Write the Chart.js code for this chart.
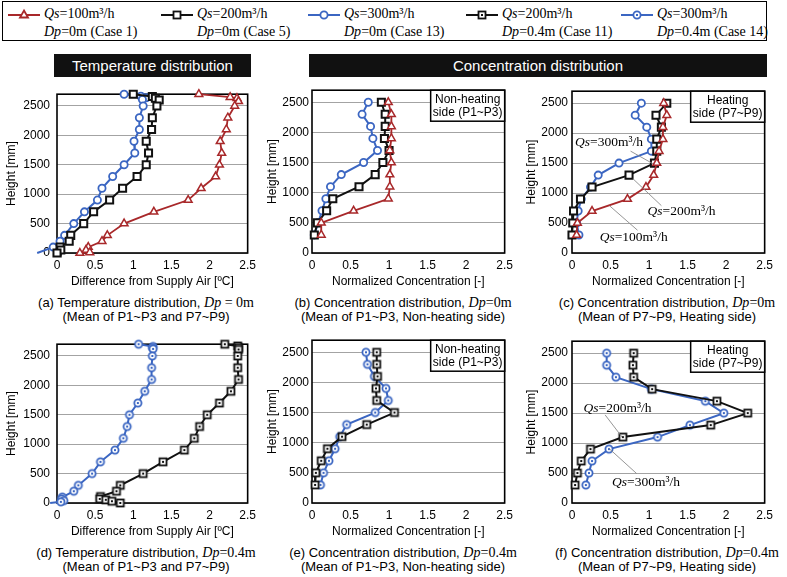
<!DOCTYPE html>
<html>
<head>
<meta charset="utf-8">
<script src="https://cdn.jsdelivr.net/npm/chart.js@4.4.0/dist/chart.umd.min.js"></script>
<style>
body { margin: 0; background: #fff; width: 787px; height: 577px; position: relative; overflow: hidden; font-family: "Liberation Sans", Arial, sans-serif; }
canvas.panel { position: absolute; }
.bar { position: absolute; top: 54px; height: 23px; background: #111; color: #fff; font-size: 15px; line-height: 23px; text-align: center; }
.cap { position: absolute; width: 280px; font-size: 13px; line-height: 14px; text-align: center; color: #000; white-space: nowrap; }
.cap .s { font-family: "Liberation Serif", serif; font-size: 14px; }
#legend { position: absolute; left: 2px; top: 1px; width: 763px; height: 38px; border: 1.5px solid #000; }
.lg { position: absolute; font-family: "Liberation Serif", serif; font-size: 14px; line-height: 16px; white-space: nowrap; }
.lgc { position: absolute; }
</style>
</head>
<body>
<div id="legend"></div>
<div class="bar" style="left:54px;width:197px;">Temperature distribution</div>
<div class="bar" style="left:309px;width:458px;">Concentration distribution</div>

<canvas class="panel" id="pa"></canvas>
<canvas class="panel" id="pb"></canvas>
<canvas class="panel" id="pc"></canvas>
<canvas class="panel" id="pd"></canvas>
<canvas class="panel" id="pe"></canvas>
<canvas class="panel" id="pf"></canvas>

<div class="cap" style="left:6px;top:296px;">(a) Temperature distribution, <i class="s">Dp</i><span class="s"> = 0m</span><br>(Mean of P1~P3 and P7~P9)</div>
<div class="cap" style="left:263px;top:296px;">(b) Concentration distribution, <i class="s">Dp</i><span class="s">=0m</span><br>(Mean of P1~P3, Non-heating side)</div>
<div class="cap" style="left:527px;top:296px;">(c) Concentration distribution, <i class="s">Dp</i><span class="s">=0m</span><br>(Mean of P7~P9, Heating side)</div>
<div class="cap" style="left:6px;top:546px;">(d) Temperature distribution, <i class="s">Dp</i><span class="s">=0.4m</span><br>(Mean of P1~P3 and P7~P9)</div>
<div class="cap" style="left:263px;top:546px;">(e) Concentration distribution, <i class="s">Dp</i><span class="s">=0.4m</span><br>(Mean of P1~P3, Non-heating side)</div>
<div class="cap" style="left:527px;top:546px;">(f) Concentration distribution, <i class="s">Dp</i><span class="s">=0.4m</span><br>(Mean of P7~P9, Heating side)</div>

<script>
// axis ticks
const yTicks = [0, 500, 1000, 1500, 2000, 2500];
const xTicks = [0, 0.5, 1, 1.5, 2, 2.5];

// legend entries
const caseNames = ["Case 1", "Case 5", "Case 13", "Case 11", "Case 14"];
const caseQs = ["100", "200", "300", "200", "300"];
const caseDp = ["0", "0", "0", "0.4", "0.4"];

// (a) temperature, Dp=0m
const hA1 = [2700, 2650, 2630, 2580, 2500, 2300, 2100, 1900, 1700, 1500, 1300, 1100, 900, 700, 500, 300, 200, 100, 50, 10, 0];
const tA1 = [1.86, 2.27, 2.36, 2.38, 2.33, 2.24, 2.22, 2.14, 2.16, 2.13, 2.08, 1.89, 1.72, 1.27, 0.88, 0.66, 0.59, 0.41, 0.38, 0.43, 0.30];
const hA5 = [2700, 2660, 2630, 2600, 2500, 2300, 2100, 1900, 1700, 1500, 1300, 1100, 900, 700, 500, 300, 200, 100, 50, 0];
const tA5 = [1.0, 1.25, 1.29, 1.34, 1.31, 1.25, 1.24, 1.17, 1.20, 1.17, 1.05, 0.86, 0.69, 0.48, 0.35, 0.18, 0.16, 0.04, 0.05, 0.0];
const hA13 = [2700, 2665, 2640, 2610, 2500, 2300, 2100, 1900, 1700, 1500, 1300, 1100, 900, 700, 500, 300, 200, 100, 0];
const tA13 = [0.88, 1.10, 1.17, 1.12, 1.13, 1.08, 1.08, 1.01, 1.02, 0.88, 0.73, 0.59, 0.53, 0.36, 0.22, 0.10, 0.04, -0.05, -0.26];

// (d) temperature, Dp=0.4m
const hD11 = [2700, 2670, 2640, 2610, 2500, 2300, 2100, 1900, 1700, 1500, 1300, 1100, 900, 700, 500, 300, 200, 110, 70, 55, 30, 0];
const tD11 = [2.20, 2.37, 2.38, 2.38, 2.37, 2.37, 2.38, 2.28, 2.13, 1.97, 1.87, 1.80, 1.67, 1.39, 1.13, 0.83, 0.78, 0.57, 0.56, 0.64, 0.72, 0.83];
const hD14 = [2700, 2660, 2640, 2620, 2500, 2300, 2100, 1900, 1700, 1500, 1300, 1100, 900, 700, 500, 300, 200, 100, 70, 40, 20, 0];
const tD14 = [1.07, 1.26, 1.25, 1.26, 1.25, 1.24, 1.24, 1.15, 1.06, 0.95, 0.92, 0.87, 0.76, 0.57, 0.46, 0.28, 0.22, 0.07, 0.06, 0.09, 0.05, -0.09];

// concentration panels share the measuring heights
const hConc = [2500, 2300, 2100, 1900, 1700, 1500, 1300, 1100, 900, 700, 500, 300];
const cB1 = [0.99, 1.03, 1.03, 1.03, 1.01, 1.03, 1.01, 1.01, 0.99, 0.54, 0.12, 0.12];
const cB5 = [0.90, 0.95, 0.95, 0.94, 1.00, 0.92, 0.82, 0.61, 0.27, 0.19, 0.07, 0.03];
const cB13 = [0.73, 0.65, 0.76, 0.79, 0.85, 0.67, 0.38, 0.24, 0.18, 0.13, 0.08, 0.03];
const cC1 = [1.19, 1.23, 1.18, 1.18, 1.13, 1.10, 1.06, 0.96, 0.72, 0.26, 0.07, 0.06];
const cC5 = [1.23, 1.09, 1.16, 1.10, 1.10, 1.07, 0.74, 0.26, 0.11, 0.02, 0.01, 0.0];
const cC13 = [0.90, 0.82, 0.97, 1.03, 1.03, 0.61, 0.34, 0.24, 0.12, 0.08, 0.06, 0.09];
const cE11 = [0.84, 0.84, 0.85, 0.83, 0.84, 1.07, 0.71, 0.39, 0.20, 0.12, 0.05, 0.04];
const cE14 = [0.70, 0.72, 0.81, 0.96, 0.99, 0.82, 0.45, 0.36, 0.30, 0.22, 0.15, 0.11];
const cF11 = [0.80, 0.79, 0.80, 1.04, 1.88, 2.28, 1.80, 0.66, 0.24, 0.12, 0.07, 0.04];
const cF14 = [0.45, 0.45, 0.57, 1.03, 1.73, 1.97, 1.53, 1.11, 0.48, 0.26, 0.22, 0.18];

const RED = "#a8282a";
const BLUE = "#3b66c2";
const BLACK = "#111111";
const SANS = '"Liberation Sans", Arial, sans-serif';
const SERIF = '"Liberation Serif", "Times New Roman", serif';

// square / circle with a dot in the middle (Dp=0.4m cases)
function dotMarker(shape, color) {
    const c = document.createElement("canvas");
    c.width = 12; c.height = 12;
    const g = c.getContext("2d");
    g.lineWidth = 1.8; g.strokeStyle = color; g.fillStyle = "#fff";
    if (shape === "rect") {
        g.fillRect(2.5, 2.5, 7, 7); g.strokeRect(2.5, 2.5, 7, 7);
    } else {
        g.beginPath(); g.arc(6, 6, 3.6, 0, Math.PI * 2); g.fill(); g.stroke();
    }
    g.fillStyle = color; g.fillRect(5, 5, 2, 2);
    return c;
}
const sqDot = dotMarker("rect", BLACK);
const ciDot = dotMarker("circle", BLUE);

const styles = {
    c1: { borderColor: RED, pointBorderColor: RED, pointStyle: "triangle", pointRadius: 4.5, pointBorderWidth: 1.5, borderWidth: 1.8 },
    c5: { borderColor: BLACK, pointBorderColor: BLACK, pointStyle: "rect", pointRadius: 5, pointBorderWidth: 2, borderWidth: 2 },
    c13: { borderColor: BLUE, pointBorderColor: BLUE, pointStyle: "circle", pointRadius: 3.6, pointBorderWidth: 1.8, borderWidth: 2 },
    c11: { borderColor: BLACK, pointBorderColor: BLACK, pointStyle: sqDot, pointRadius: 5, borderWidth: 2 },
    c14: { borderColor: BLUE, pointBorderColor: BLUE, pointStyle: ciDot, pointRadius: 4, borderWidth: 2 }
};

function series(xs, hs, key, extra) {
    return Object.assign({
        data: xs.map((v, i) => ({ x: v, y: hs[i] })),
        showLine: true,
        tension: 0,
        clip: false,
        pointBackgroundColor: "#fff",
        pointHoverRadius: 5
    }, styles[key], extra || {});
}

// frame, side box and leader-line notes
const panelDeco = {
    id: "panelDeco",
    beforeDatasetsDraw(chart) {
        const { ctx, chartArea: a } = chart;
        ctx.save();
        ctx.strokeStyle = "#000";
        ctx.lineWidth = 1.6;
        ctx.strokeRect(a.left, a.top, a.right - a.left, a.bottom - a.top);
        ctx.restore();
    },
    afterDatasetsDraw(chart) {
        const { ctx, chartArea: a } = chart;
        const o = chart.options.plugins.panelDeco || {};
        const sx = chart.scales.x, sy = chart.scales.y;
        ctx.save();
        if (o.box) {
            const w = 74, h = 31, x = a.right - w, y = a.top;
            ctx.fillStyle = "#fff";
            ctx.fillRect(x, y, w, h);
            ctx.strokeStyle = "#000";
            ctx.lineWidth = 1.5;
            ctx.strokeRect(x, y, w, h);
            ctx.fillStyle = "#000";
            ctx.font = "12px " + SANS;
            ctx.textAlign = "center";
            ctx.textBaseline = "middle";
            ctx.fillText(o.box[0], x + w / 2, y + 9.5);
            ctx.fillText(o.box[1], x + w / 2, y + 22);
        }
        (o.notes || []).forEach((n) => {
            ctx.strokeStyle = "#8a8a8a";
            ctx.lineWidth = 0.9;
            ctx.beginPath();
            ctx.moveTo(sx.getPixelForValue(n.from[0]), sy.getPixelForValue(n.from[1]));
            ctx.lineTo(sx.getPixelForValue(n.to[0]), sy.getPixelForValue(n.to[1]));
            ctx.stroke();
            let tx = sx.getPixelForValue(n.at[0]);
            const ty = sy.getPixelForValue(n.at[1]);
            ctx.fillStyle = "#000";
            ctx.textBaseline = "middle";
            ctx.textAlign = "left";
            ctx.font = "italic 13.5px " + SERIF;
            ctx.fillText("Qs", tx, ty);
            tx += ctx.measureText("Qs").width;
            ctx.font = "13.5px " + SERIF;
            ctx.fillText("=" + n.qs + "m\u00B3/h", tx, ty);
        });
        ctx.restore();
    }
};

function makePanel(id, p) {
    const cv = document.getElementById(id);
    const padR = 12, padT = 8, xh = 36, ph = 165;
    cv.width = p.yw + p.pw + padR;
    cv.height = padT + ph + xh;
    cv.style.left = p.left + "px";
    cv.style.top = p.top + "px";
    return new Chart(cv.getContext("2d"), {
        type: "scatter",
        data: { datasets: p.datasets },
        plugins: [panelDeco],
        options: {
            responsive: false,
            animation: false,
            devicePixelRatio: 1,
            layout: { padding: { top: padT, right: padR, bottom: 0, left: 0 } },
            plugins: {
                legend: { display: false },
                tooltip: { enabled: false },
                panelDeco: { box: p.box, notes: p.notes }
            },
            scales: {
                x: {
                    type: "linear", min: 0, max: 2.5,
                    afterBuildTicks: (s) => { s.ticks = xTicks.map((v) => ({ value: v })); },
                    afterFit: (s) => { s.height = xh; },
                    grid: { display: false, drawTicks: false },
                    border: { display: false },
                    ticks: { padding: 5, color: "#000", font: { family: SANS, size: 12 }, maxRotation: 0, autoSkip: false,
                        callback: (v) => String(v) },
                    title: { display: true, text: p.xTitle, color: "#000", font: { family: SANS, size: 12 }, padding: { top: 0, bottom: 0 } }
                },
                y: {
                    type: "linear", min: 0, max: 2700,
                    afterBuildTicks: (s) => { s.ticks = yTicks.map((v) => ({ value: v })); },
                    afterFit: (s) => { s.width = p.yw; },
                    grid: { color: "#a3a3a3", lineWidth: 1, drawTicks: false },
                    border: { display: false },
                    ticks: { padding: p.tp, color: "#000", font: { family: SANS, size: 12 }, autoSkip: false,
                        callback: (v) => String(v) },
                    title: { display: true, text: "Height [mm]", color: "#000", font: { family: SANS, size: 12 }, padding: { top: 0, bottom: 0 } }
                }
            }
        }
    });
}

const tTitle = "Difference from Supply Air [\u00BAC]";
const cTitle = "Normalized Concentration [-]";
const col1 = { left: 4, yw: 53, pw: 192, tp: 7 };
const col2 = { left: 265, yw: 47, pw: 194, tp: 3 };
const col3 = { left: 524, yw: 48, pw: 194, tp: 4 };

makePanel("pa", Object.assign({}, col1, { top: 80, xTitle: tTitle, datasets: [
    series(tA1, hA1, "c1"),
    series(tA5, hA5, "c5"),
    series(tA13, hA13, "c13", { pointRadius: hA13.map((h, i) => (i === hA13.length - 1 ? 0 : 3.6)) })
] }));
makePanel("pb", Object.assign({}, col2, { top: 80, xTitle: cTitle, box: ["Non-heating", "side (P1~P3)"], datasets: [
    series(cB1, hConc, "c1"), series(cB5, hConc, "c5"), series(cB13, hConc, "c13")
] }));
makePanel("pc", Object.assign({}, col3, { top: 80, xTitle: cTitle, box: ["Heating", "side (P7~P9)"], datasets: [
    series(cC1, hConc, "c1"), series(cC5, hConc, "c5"), series(cC13, hConc, "c13")
], notes: [
    { qs: "300", at: [0.04, 1850], from: [0.76, 1700], to: [1.05, 1490] },
    { qs: "200", at: [0.98, 700], from: [0.79, 1240], to: [1.16, 790] },
    { qs: "100", at: [0.36, 260], from: [0.49, 785], to: [0.85, 380] }
] }));
makePanel("pd", Object.assign({}, col1, { top: 330, xTitle: tTitle, datasets: [
    series(tD11, hD11, "c11"),
    series(tD14, hD14, "c14", { pointRadius: hD14.map((h, i) => (i === hD14.length - 1 ? 0 : 4)) })
] }));
makePanel("pe", Object.assign({}, col2, { top: 330, xTitle: cTitle, box: ["Non-heating", "side (P1~P3)"], datasets: [
    series(cE11, hConc, "c11"), series(cE14, hConc, "c14")
] }));
makePanel("pf", Object.assign({}, col3, { top: 330, xTitle: cTitle, box: ["Heating", "side (P7~P9)"], datasets: [
    series(cF11, hConc, "c11"), series(cF14, hConc, "c14")
], notes: [
    { qs: "200", at: [0.15, 1570], from: [0.43, 1470], to: [0.65, 1100] },
    { qs: "300", at: [0.52, 345], from: [0.84, 490], to: [0.48, 910] }
] }));

// legend (html text + small icons)
const lgKeys = ["c1", "c5", "c13", "c11", "c14"];
const lgX = [7, 160, 307, 465, 620];
const legend = document.getElementById("legend");
lgKeys.forEach((k, i) => {
    const st = styles[k];
    const c = document.createElement("canvas");
    c.width = 32; c.height = 14;
    c.className = "lgc";
    c.style.left = (lgX[i] - 2) + "px";
    c.style.top = "6px";
    const g = c.getContext("2d");
    g.strokeStyle = st.borderColor; g.lineWidth = 2;
    g.beginPath(); g.moveTo(0, 7); g.lineTo(32, 7); g.stroke();
    g.fillStyle = "#fff"; g.lineWidth = 1.8;
    if (st.pointStyle === "triangle") {
        g.beginPath(); g.moveTo(16, 2.5); g.lineTo(20, 9.5); g.lineTo(12, 9.5); g.closePath(); g.fill(); g.stroke();
    } else if (st.pointStyle === "rect") {
        g.fillRect(12.5, 3.5, 7, 7); g.strokeRect(12.5, 3.5, 7, 7);
    } else if (st.pointStyle === "circle") {
        g.beginPath(); g.arc(16, 7, 3.6, 0, Math.PI * 2); g.fill(); g.stroke();
    } else {
        g.drawImage(st.pointStyle, 10, 1);
    }
    legend.appendChild(c);
    const t = document.createElement("div");
    t.className = "lg";
    t.style.left = (lgX[i] + 34) + "px";
    t.style.top = "4px";
    t.innerHTML = "<i>Qs</i>=" + caseQs[i] + "m\u00B3/h<br><span style='display:inline-block;margin-top:2px'><i>Dp</i>=" + caseDp[i] + "m (" + caseNames[i] + ")</span>";
    legend.appendChild(t);
});
</script>
</body>
</html>
